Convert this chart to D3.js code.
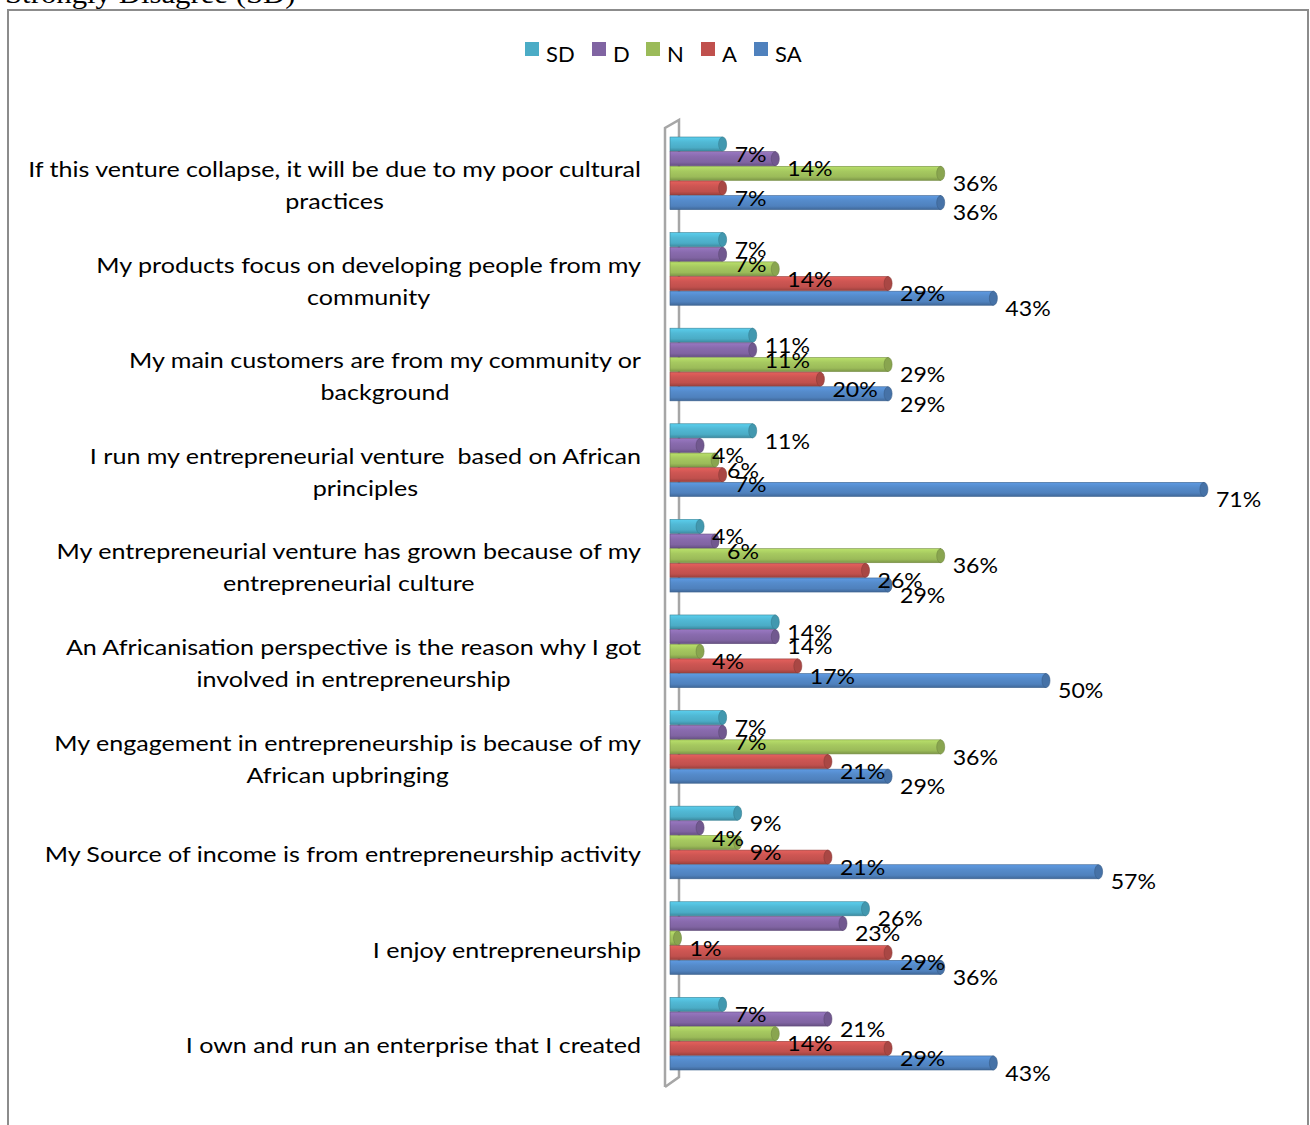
<!DOCTYPE html>
<html>
<head>
<meta charset="utf-8">
<script src="https://cdn.jsdelivr.net/npm/d3@7"></script>
<style>
  body { margin: 0; background: #fff; }
  svg { display: block; }
</style>
</head>
<body>
<svg id="chart"></svg>
<script>
// statements, top to bottom as they appear in the chart
const categories = [
  "If this venture collapse, it will be due to my poor cultural\npractices",
  "My products focus on developing people from my\ncommunity",
  "My main customers are from my community or\nbackground",
  "I run my entrepreneurial venture  based on African\nprinciples",
  "My entrepreneurial venture has grown because of my\nentrepreneurial culture",
  "An Africanisation perspective is the reason why I got\ninvolved in entrepreneurship",
  "My engagement in entrepreneurship is because of my\nAfrican upbringing",
  "My Source of income is from entrepreneurship activity",
  "I enjoy entrepreneurship",
  "I own and run an enterprise that I created"
];

const seriesNames = ["SD", "D", "N", "A", "SA"];
const seriesColors = ["#4BACC6", "#8064A2", "#9BBB59", "#C0504D", "#4F81BD"];

// percentages per series, same order as categories
const SD = [7, 7, 11, 11, 4, 14, 7, 9, 26, 7];
const D  = [14, 7, 11, 4, 6, 14, 7, 4, 23, 21];
const N  = [36, 14, 29, 6, 36, 4, 36, 9, 1, 14];
const A  = [7, 29, 20, 7, 26, 17, 21, 21, 29, 29];
const SA = [36, 43, 29, 71, 29, 50, 29, 57, 36, 43];

const seriesValues = [SD, D, N, A, SA];

const width = 1310, height = 1125;
const svg = d3.select("#chart").attr("width", width).attr("height", height);

const font = "Lato, 'Noto Sans', sans-serif";
const stretch = 1.14; // the original text is a bit wider than Lato

// page text cut off above the chart
svg.append("text")
  .attr("transform", `translate(5,3) scale(${stretch},1)`)
  .attr("font-family", "'Liberation Serif', 'Times New Roman', serif")
  .attr("font-size", 27)
  .attr("fill", "#000")
  .text("Strongly Disagree (SD)");

// chart frame
svg.append("rect")
  .attr("x", 8)
  .attr("y", 10)
  .attr("width", 1300)
  .attr("height", 1140)
  .attr("fill", "none")
  .attr("stroke", "#8c8c8c")
  .attr("stroke-width", 2);

// scales
const x = d3.scaleLinear().domain([0, 100]).range([670, 670 + 752]);

const y = d3.scaleBand()
  .domain(d3.range(categories.length))
  .range([137, 1070])
  .paddingInner(0.24)
  .paddingOuter(0);

const ySub = d3.scaleBand()
  .domain(seriesNames)
  .range([0, y.bandwidth()])
  .paddingInner(0.04);

// gradients for the cylinder look
const defs = svg.append("defs");
seriesColors.forEach((c, i) => {
  const g = defs.append("linearGradient")
    .attr("id", "grad" + i)
    .attr("x1", "0%").attr("y1", "0%")
    .attr("x2", "0%").attr("y2", "100%");
  const base = d3.color(c);
  g.append("stop").attr("offset", "0%").attr("stop-color", base.brighter(0.5));
  g.append("stop").attr("offset", "35%").attr("stop-color", base.brighter(0.2));
  g.append("stop").attr("offset", "75%").attr("stop-color", base);
  g.append("stop").attr("offset", "100%").attr("stop-color", base.darker(0.6));
});

// 3D wall of the value axis
const wallTop = y.range()[0] - 9, wallBottom = y.range()[1] + 17;
svg.append("path")
  .attr("d", `M${x(0) - 5},${wallBottom} L${x(0) - 5},${wallTop} L${x(0) + 9},${wallTop - 8} L${x(0) + 9},${wallBottom - 10} L${x(0) - 5},${wallBottom}`)
  .attr("fill", "none")
  .attr("stroke", "#a6a6a6")
  .attr("stroke-width", 2.5);

// bars
const rows = [];
categories.forEach((cat, ci) => {
  seriesNames.forEach((s, si) => {
    rows.push({ ci: ci, si: si, series: s, value: seriesValues[si][ci] });
  });
});

const bars = svg.append("g")
  .selectAll("g")
  .data(rows)
  .join("g")
  .attr("transform", d => `translate(0,${y(d.ci) + ySub(d.series)})`);

const bh = ySub.bandwidth();

bars.append("rect")
  .attr("x", x(0))
  .attr("y", 0)
  .attr("width", d => x(d.value) - x(0))
  .attr("height", bh)
  .attr("fill", d => `url(#grad${d.si})`)
  .attr("stroke", d => d3.color(seriesColors[d.si]).darker(0.8))
  .attr("stroke-width", 0.6);

bars.append("ellipse")
  .attr("cx", d => x(d.value))
  .attr("cy", bh / 2)
  .attr("rx", 4)
  .attr("ry", bh / 2)
  .attr("fill", d => d3.color(seriesColors[d.si]).darker(0.35))
  .attr("stroke", d => d3.color(seriesColors[d.si]).darker(0.9))
  .attr("stroke-width", 0.6);

// value labels (sit a little below their bars, as in the original)
svg.append("g")
  .selectAll("text")
  .data(rows)
  .join("text")
  .attr("transform", d => `translate(${x(d.value) + 12},${y(d.ci) + ySub(d.series) + bh / 2 + 10}) scale(1.05,1)`)
  .attr("dy", "0.35em")
  .attr("font-family", font)
  .attr("font-size", 22)
  .attr("fill", "#000")
  .text(d => d.value + "%");

// category labels: block right aligned, lines centred inside it
const labelRight = 641;
const lineH = 32;
categories.forEach((cat, ci) => {
  const lines = cat.split("\n");
  const mid = y(ci) + y.bandwidth() / 2 + 12;
  const t = svg.append("text")
    .attr("transform", `translate(${labelRight},${mid}) scale(${stretch},1)`)
    .attr("font-family", font)
    .attr("font-size", 22)
    .attr("fill", "#000")
    .attr("text-anchor", "middle")
    .style("white-space", "pre");
  const spans = lines.map((ln, li) =>
    t.append("tspan")
      .attr("y", (li - (lines.length - 1) / 2) * lineH)
      .attr("dy", "0.35em")
      .text(ln)
  );
  const maxW = d3.max(spans, s => s.node().getComputedTextLength());
  spans.forEach(s => s.attr("x", -maxW / 2));
});

// legend
const legendX = [525, 592, 646, 701, 754];
const legend = svg.append("g")
  .selectAll("g")
  .data(seriesNames)
  .join("g")
  .attr("transform", (d, i) => `translate(${legendX[i]},42)`);

legend.append("rect")
  .attr("width", 14)
  .attr("height", 14)
  .attr("fill", (d, i) => seriesColors[i]);

legend.append("text")
  .attr("x", 21)
  .attr("y", 12)
  .attr("dy", "0.35em")
  .attr("font-family", font)
  .attr("font-size", 22)
  .attr("fill", "#000")
  .text(d => d);
</script>
</body>
</html>
